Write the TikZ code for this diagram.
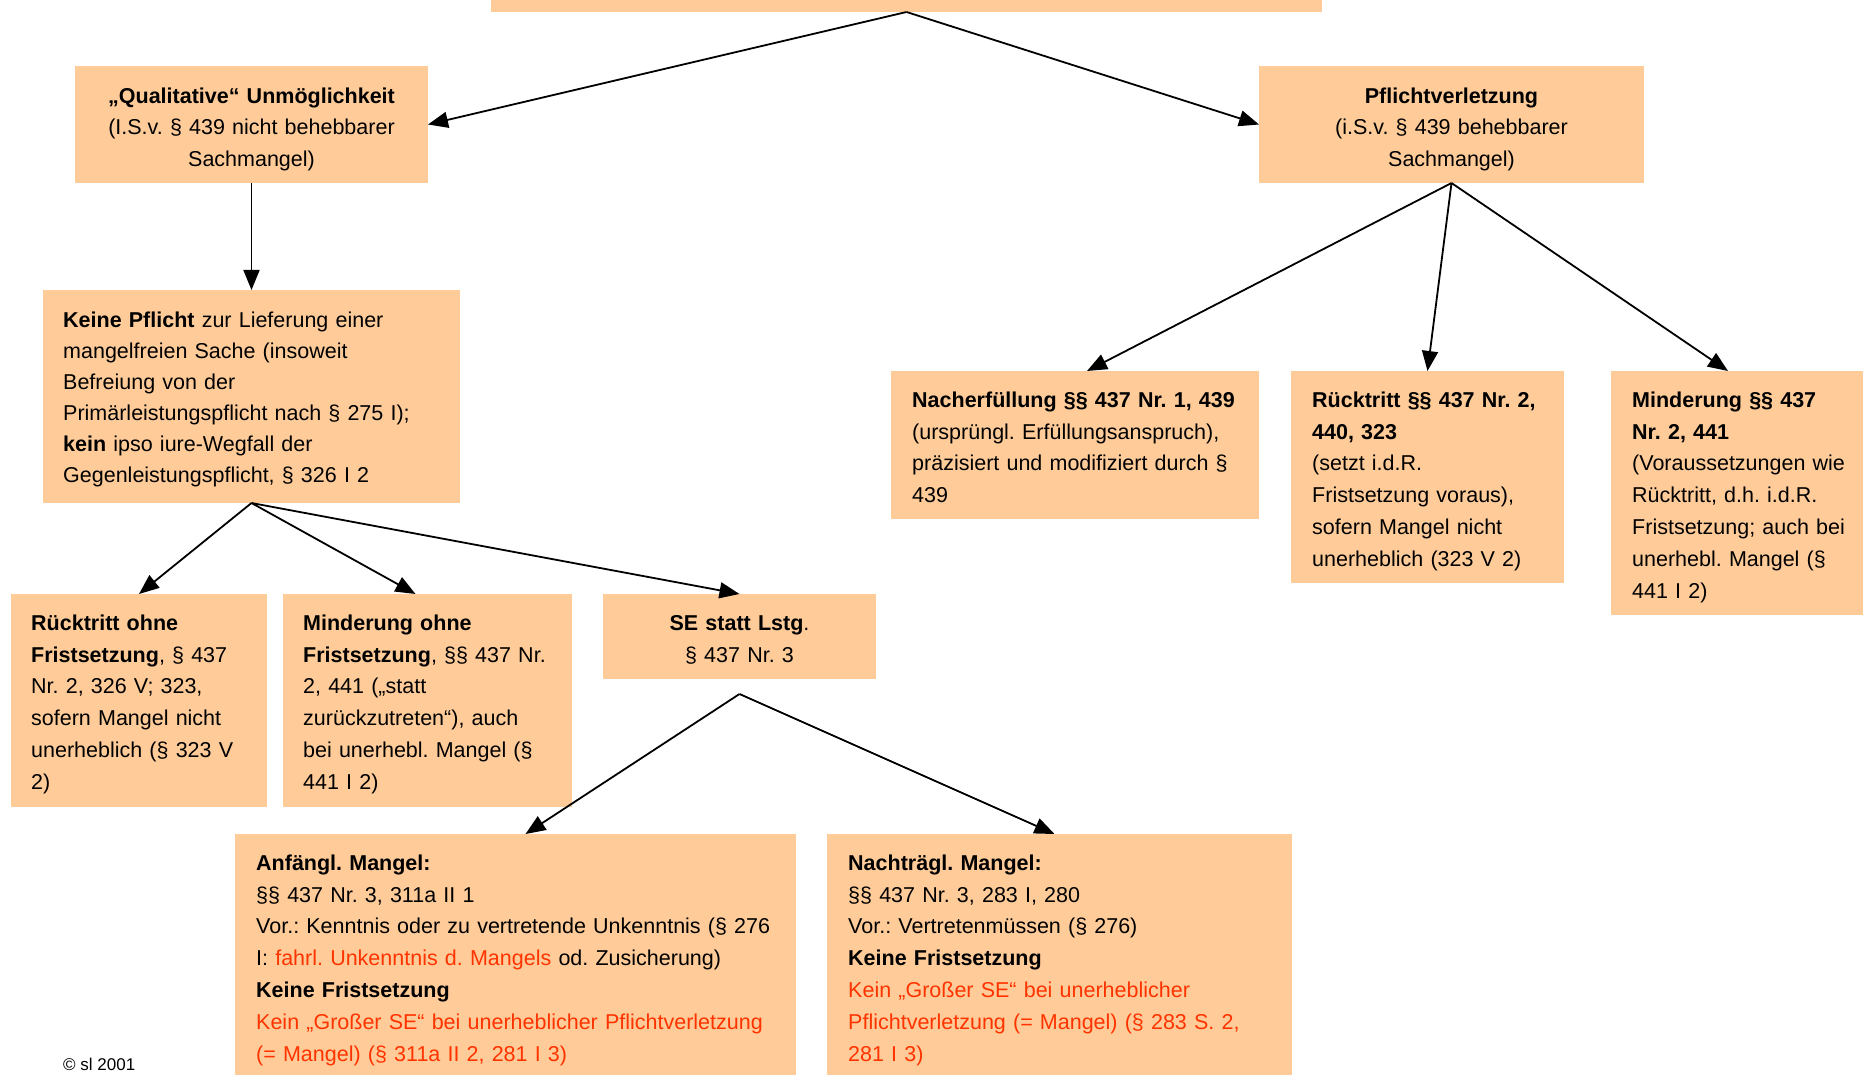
\documentclass[tikz,border=0pt]{standalone}
\usepackage{fontspec}
\setmainfont{Liberation Sans}
\usetikzlibrary{arrows.meta}
\definecolor{boxfill}{RGB}{255,204,153}
\definecolor{redtxt}{RGB}{255,51,0}
\newcommand{\fst}{\rule{0pt}{22pt}}
\newcommand{\rt}[1]{\textcolor{redtxt}{#1}}
\frenchspacing
\begin{document}
\begin{tikzpicture}[x=1pt,y=-1pt,
  box/.style={fill=boxfill, draw=none, inner sep=0pt, outer sep=0pt, anchor=north west},
  txt/.style={inner sep=0pt, anchor=north west, align=left, font=\fontsize{21.5}{31.8}\selectfont\frenchspacing},
  ctxt/.style={inner sep=0pt, anchor=north, align=center, font=\fontsize{21.5}{31.8}\selectfont\frenchspacing},
  conn/.style={line width=1.8pt, -{Triangle[length=20pt,width=16pt]}}]
\useasboundingbox (0,0) rectangle (1863,1075);
\clip (0,0) rectangle (1863,1075);
\fill[white] (0,0) rectangle (1863,1075);

% boxes
\node[box, anchor=south west, minimum width=831pt, minimum height=60pt] (top) at (491,12) {};
\node[box, minimum width=353pt, minimum height=117pt] (qual) at (75,66) {};
\node[box, minimum width=385pt, minimum height=117pt] (pfl) at (1259,66) {};
\node[box, minimum width=417pt, minimum height=213pt] (keine) at (43,290) {};
\node[box, minimum width=368pt, minimum height=148pt] (nach) at (891,371) {};
\node[box, minimum width=273pt, minimum height=212pt] (rueck) at (1291,371) {};
\node[box, minimum width=252pt, minimum height=244pt] (mind) at (1611,371) {};
\node[box, minimum width=256pt, minimum height=213pt] (rohne) at (11,594) {};
\node[box, minimum width=289pt, minimum height=213pt] (mohne) at (283,594) {};
\node[box, minimum width=273pt, minimum height=85pt] (se) at (603,594) {};
\node[box, minimum width=561pt, minimum height=256pt] (anf) at (235,834) {};
\node[box, minimum width=465pt, minimum height=256pt] (ntr) at (827,834) {};

% connectors
\draw[conn] (top.south) -- (qual.east);
\draw[conn] (top.south) -- (pfl.west);
\draw[conn] (qual.south) -- (keine.north);
\draw[conn] (pfl.south) -- ([xshift=12pt]nach.north);
\draw[conn] (pfl.south) -- (rueck.north);
\draw[conn] (pfl.south) -- ([xshift=-9pt]mind.north);
\draw[conn] (keine.south) -- (rohne.north);
\draw[conn] (keine.south) -- ([xshift=-12pt]mohne.north);
\draw[conn] (keine.south) -- (se.north);
\coordinate (seapex) at ([yshift=-15pt]se.south);
\draw[conn] (seapex) -- ([xshift=10pt]anf.north);
\draw[conn] (seapex) -- ([xshift=-5pt]ntr.north);

% texts
\node[ctxt, text width=353pt] (qualt) at (251.5,81)
 {\fst\textbf{„Qualitative“ Unmöglichkeit}\\(I.S.v. § 439 nicht behebbarer\\Sachmangel)};
\node[ctxt, text width=385pt] (pflt) at (1451.5,81)
 {\fst\textbf{Pflichtverletzung}\\(i.S.v. § 439 behebbarer\\Sachmangel)};
\node[txt, text width=390pt, font=\fontsize{21.5}{31}\selectfont] (keinet) at (63,305)
 {\fst\textbf{Keine Pflicht} zur Lieferung einer\\
  mangelfreien Sache (insoweit\\
  Befreiung von der\\
  Primärleistungspflicht nach § 275 I);\\
  \textbf{kein} ipso iure-Wegfall der\\
  Gegenleistungspflicht, § 326 I 2};
\node[txt, text width=345pt] (nacht) at (912,385)
 {\fst\textbf{Nacherfüllung §§ 437 Nr. 1, 439}\\
  (ursprüngl. Erfüllungsanspruch),\\
  präzisiert und modifiziert durch §\\
  439};
\node[txt, text width=250pt] (ruekt) at (1312,385)
 {\fst\textbf{Rücktritt §§ 437 Nr. 2,}\\
  \textbf{440, 323}\\
  (setzt i.d.R.\\
  Fristsetzung voraus),\\
  sofern Mangel nicht\\
  unerheblich (323 V 2)};
\node[txt, text width=230pt] (mindt) at (1632,385)
 {\fst\textbf{Minderung §§ 437}\\
  \textbf{Nr. 2, 441}\\
  (Voraussetzungen wie\\
  Rücktritt, d.h. i.d.R.\\
  Fristsetzung; auch bei\\
  unerhebl. Mangel (§\\
  441 I 2)};
\node[txt, text width=235pt] (rohnet) at (31,608)
 {\fst\textbf{Rücktritt ohne}\\
  \textbf{Fristsetzung}, § 437\\
  Nr. 2, 326 V; 323,\\
  sofern Mangel nicht\\
  unerheblich (§ 323 V\\
  2)};
\node[txt, text width=268pt] (mohnet) at (303,608)
 {\fst\textbf{Minderung ohne}\\
  \textbf{Fristsetzung}, §§ 437 Nr.\\
  2, 441 („statt\\
  zurückzutreten“), auch\\
  bei unerhebl. Mangel (§\\
  441 I 2)};
\node[ctxt, text width=273pt] (set) at (739.5,608)
 {\fst\textbf{SE statt Lstg}.\\§ 437 Nr. 3};
\node[txt, text width=538pt] (anft) at (256,848)
 {\fst\textbf{Anfängl. Mangel:}\\
  §§ 437 Nr. 3, 311a II 1\\
  Vor.: Kenntnis oder zu vertretende Unkenntnis (§ 276\\
  I: \rt{fahrl. Unkenntnis d. Mangels} od. Zusicherung)\\
  \textbf{Keine Fristsetzung}\\
  \rt{Kein „Großer SE“ bei unerheblicher Pflichtverletzung}\\
  \rt{(= Mangel) (§ 311a II 2, 281 I 3)}};
\node[txt, text width=440pt] (ntrt) at (848,848)
 {\fst\textbf{Nachträgl. Mangel:}\\
  §§ 437 Nr. 3, 283 I, 280\\
  Vor.: Vertretenmüssen (§ 276)\\
  \textbf{Keine Fristsetzung}\\
  \rt{Kein „Großer SE“ bei unerheblicher}\\
  \rt{Pflichtverletzung (= Mangel) (§ 283 S. 2,}\\
  \rt{281 I 3)}};
\node[inner sep=0pt, anchor=base west, font=\fontsize{17}{19}\selectfont] (copy) at (63,1070) {© sl 2001};
\end{tikzpicture}
\end{document}
